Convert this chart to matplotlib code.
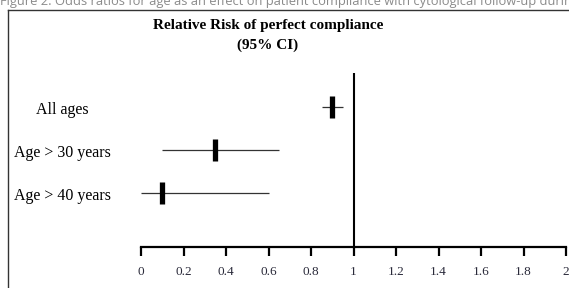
import matplotlib
matplotlib.use("Agg")
import matplotlib.pyplot as plt
from matplotlib.lines import Line2D

# forest plot data: relative risk with 95% CI
groups = ["All ages", "Age > 30 years", "Age > 40 years"]
rr = [0.90, 0.35, 0.10]
ci_low = [0.85, 0.10, 0.00]
ci_high = [0.95, 0.65, 0.60]
rows = [3, 2, 1]
xticks = [0, 0.2, 0.4, 0.6, 0.8, 1, 1.2, 1.4, 1.6, 1.8, 2]
xticklabels = ["0", "0.2", "0.4", "0.6", "0.8", "1", "1.2", "1.4", "1.6", "1.8", "2"]

W, H = 569, 288
fig = plt.figure(figsize=(W / 100, H / 100), dpi=100)
serif = ["Liberation Serif", "DejaVu Serif"]

# axes placed so that 0 -> px 141, 2 -> px 566
ax = fig.add_axes([141 / W, 1 - 247 / H, 425 / W, 174 / H])
ax.set_xlim(0, 2)
ax.set_ylim(-0.256, 3.79)

for y, m, lo, hi in zip(rows, rr, ci_low, ci_high):
    ax.plot([lo, hi], [y, y], color="#333333", lw=0.9, solid_capstyle="butt", clip_on=False)
    ax.plot([m], [y], marker="|", markersize=16, markeredgewidth=3.8, color="black", clip_on=False)

ax.axvline(1, color="black", lw=1.5)

for s in ["top", "right", "left"]:
    ax.spines[s].set_visible(False)
ax.spines["bottom"].set_linewidth(1.6)
ax.set_yticks([])
ax.set_xticks(xticks)
ax.set_xticklabels(xticklabels, fontfamily=serif, fontsize=9.5, color="#2a2a3a")
ax.tick_params(axis="x", direction="out", length=6.5, width=1.6, pad=7)

for y, g in zip(rows, groups):
    ax.text(-0.37, y - 0.08, g, ha="center", va="center", fontfamily=serif,
            fontsize=11.5, clip_on=False)

fig.text(268 / W, 1 - 25 / H, "Relative Risk of perfect compliance", ha="center", va="center",
         fontfamily=serif, fontweight="bold", fontsize=11)
fig.text(268 / W, 1 - 45 / H, "(95% CI)", ha="center", va="center",
         fontfamily=serif, fontweight="bold", fontsize=11)

# caption (cut off at the top) and frame
fig.text(0.0, 1 - 5 / H, "Figure 2: Odds ratios for age as an effect on patient compliance "
         "with cytological follow-up during the study", ha="left", va="baseline",
         fontfamily=["Open Sans", "DejaVu Sans"], fontsize=9.3, color="#8a8a8a")
fig.add_artist(Line2D([7.5 / W, 7.5 / W], [1 - 10 / H, 0], transform=fig.transFigure,
                      color="#333333", lw=1))
fig.add_artist(Line2D([7.5 / W, 1], [1 - 10 / H, 1 - 10 / H], transform=fig.transFigure,
                      color="#333333", lw=1))

fig.savefig("out.png", dpi=100)
